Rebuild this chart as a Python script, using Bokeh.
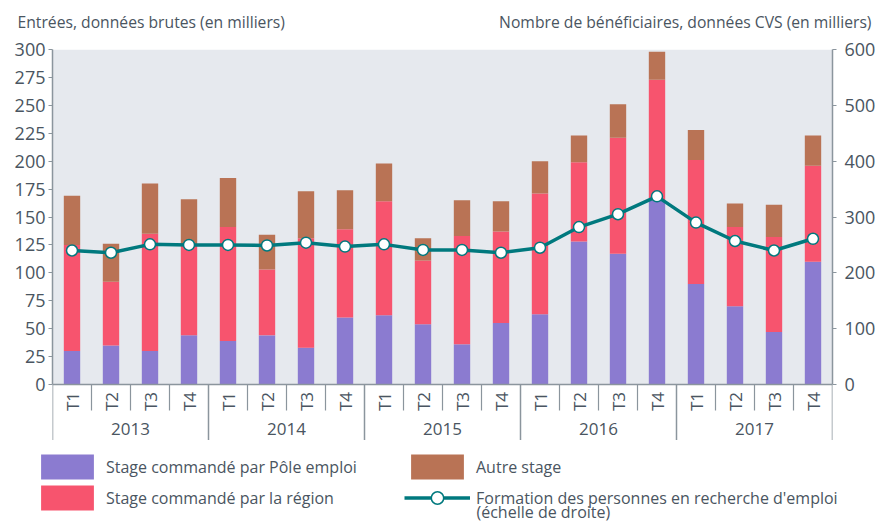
import math
from bokeh.plotting import figure
from bokeh.models import (FactorRange, Range1d, LinearAxis, FixedTicker, BoxAnnotation,
                          Span, Legend, LegendItem, ColumnDataSource)
from bokeh.core.properties import value
from bokeh.embed import file_html
from bokeh.resources import INLINE

years = ["2013", "2014", "2015", "2016", "2017"]
quarters = ["T1", "T2", "T3", "T4"]
pole = [30, 35, 30, 44, 39, 44, 33, 60, 62, 54, 36, 55, 63, 128, 117, 165, 90, 70, 47, 110]
region = [95, 57, 105, 81, 102, 59, 98, 79, 102, 57, 97, 82, 108, 71, 104, 108, 111, 71, 85, 86]
autre = [44, 34, 45, 41, 44, 31, 42, 35, 34, 20, 32, 27, 29, 24, 30, 25, 27, 21, 29, 27]
formation = [240, 236, 251, 250, 250, 249, 254, 247, 251, 241, 241, 236,
             245, 282, 305, 337, 290, 257, 240, 261]
left_ticks = list(range(0, 301, 25))
right_ticks = list(range(0, 601, 100))
title_left = "Entrées, données brutes (en milliers)"
title_right = "Nombre de bénéficiaires, données CVS (en milliers)"
lab_pole = "Stage commandé par Pôle emploi"
lab_region = "Stage commandé par la région"
lab_autre = "Autre stage"
lab_form = "Formation des personnes en recherche d'emploi"
lab_form2 = "(échelle de droite)"

FONT = "Open Sans"
TXT = "#4a5561"
AX = "#8b959d"
C_POLE = "#8b7bd0"
C_REG = "#f7546e"
C_AUT = "#b97355"
C_LINE = "#00797e"
BG = "#e6e9ee"
W = 886

def bare(h, **kw):
    f = figure(width=W, height=h, output_backend="svg", toolbar_location=None,
               x_axis_location=None, y_axis_location=None, outline_line_color=None,
               background_fill_color="white", border_fill_color="white", **kw)
    f.grid.visible = False
    return f

# ---------- titles ----------
TH = 36
top = bare(TH, x_range=Range1d(0, W), y_range=Range1d(TH, 0),
           min_border_left=0, min_border_right=0, min_border_top=0, min_border_bottom=0)
top.text(x=[17], y=[21], text=[title_left], text_align="left", text_baseline="middle",
         text_font=value(FONT), text_font_size="15.7px", text_color=TXT)
top.text(x=[871], y=[21], text=[title_right], text_align="right", text_baseline="middle",
         text_font=value(FONT), text_font_size="15.7px", text_color=TXT)

# ---------- main chart ----------
factors = [(y, q) for y in years for q in quarters]
src = ColumnDataSource(dict(x=factors, pole=pole, region=region, autre=autre, formation=formation))

K = 300 / 335.0  # left-axis units per pixel
y_bottom = -56 * K

p = bare(440 - TH, x_range=FactorRange(*factors, factor_padding=0, group_padding=0, range_padding=0),
         y_range=Range1d(y_bottom, 300),
         min_border_left=52, min_border_right=54, min_border_top=49 - TH, min_border_bottom=0)
p.extra_y_ranges = {"right": Range1d(2 * y_bottom, 600)}

p.add_layout(BoxAnnotation(bottom=0, fill_color=BG, fill_alpha=1, line_color=None, level="underlay"))

rs = p.vbar_stack(["pole", "region", "autre"], x="x", width=0.42, source=src,
                  color=[C_POLE, C_REG, C_AUT], line_color=None)
p.line(x="x", y="formation", source=src, y_range_name="right", line_color=C_LINE, line_width=3.5)
p.scatter(x="x", y="formation", source=src, y_range_name="right", size=11,
          fill_color="white", line_color=C_LINE, line_width=1.5)

la = LinearAxis(bounds=(0, 300), ticker=FixedTicker(ticks=left_ticks))
ra = LinearAxis(y_range_name="right", bounds=(0, 600), ticker=FixedTicker(ticks=right_ticks))
for ax, so in ((la, 3), (ra, 8)):
    ax.axis_line_color = AX
    ax.axis_line_width = 1.5
    ax.major_tick_line_color = AX
    ax.major_tick_line_width = 1.2
    ax.major_tick_out = 4
    ax.major_tick_in = 0
    ax.minor_tick_line_color = None
    ax.major_label_standoff = so
    ax.major_label_text_font = FONT
    ax.major_label_text_font_size = "18px"
    ax.major_label_text_color = TXT
p.add_layout(la, "left")
p.add_layout(ra, "right")
p.add_layout(Span(location=0, dimension="width", line_color=AX, line_width=1.5))

n = len(factors)
qb = [i for i in range(1, n) if i % len(quarters)]
yb = [i for i in range(0, n + 1, len(quarters))]
p.segment(x0=qb, x1=qb, y0=[0] * len(qb), y1=[-26 * K] * len(qb), line_color=AX, line_width=1.2)
p.segment(x0=yb, x1=yb, y0=[0] * len(yb), y1=[-56 * K] * len(yb), line_color=AX, line_width=1.5)
p.text(x=factors, y=[-17 * K] * n, text=[q for _ in years for q in quarters], angle=math.pi / 2,
       text_align="center", text_baseline="middle", text_font=value(FONT),
       text_font_size="17px", text_color=TXT)
p.text(x=years, y=[-44 * K] * len(years), text=years, text_align="center", text_baseline="middle",
       text_font=value(FONT), text_font_size="17px", text_color=TXT)

# ---------- legend ----------
BH = 521 - 440
bot = bare(BH, x_range=Range1d(0, W), y_range=Range1d(BH, 0),
           min_border_left=0, min_border_right=0, min_border_top=0, min_border_bottom=0)
# legend proxies: one point each, placed off the visible range
px = dict(x=[-100], top=[0])
g_pole = bot.vbar(x="x", top="top", width=1, source=ColumnDataSource(px), color=C_POLE, line_color=None)
g_reg = bot.vbar(x="x", top="top", width=1, source=ColumnDataSource(px), color=C_REG, line_color=None)
g_aut = bot.vbar(x="x", top="top", width=1, source=ColumnDataSource(px), color=C_AUT, line_color=None)
pl = dict(x=[-100, -90], y=[0, 0])
g_line = bot.line(x="x", y="y", source=ColumnDataSource(pl), line_color=C_LINE, line_width=3.5)
g_pts = bot.scatter(x="x", y="y", source=ColumnDataSource(pl), size=11, fill_color="white",
                    line_color=C_LINE, line_width=1.5)

def mk_legend(items, loc):
    return Legend(items=items, location=loc, orientation="vertical", padding=0, margin=0,
                  spacing=-1, glyph_width=66, glyph_height=31, label_standoff=6,
                  border_line_color=None, background_fill_alpha=0,
                  label_text_font=FONT, label_text_font_size="16px", label_text_color=TXT)

bot.add_layout(mk_legend([LegendItem(label=lab_pole, renderers=[g_pole]),
                          LegendItem(label=lab_region, renderers=[g_reg])], (34, 8)))
bot.add_layout(mk_legend([LegendItem(label=lab_autre, renderers=[g_aut]),
                          LegendItem(label=lab_form, renderers=[g_line, g_pts])], (404, 8)))
bot.text(x=[476], y=[71], text=[lab_form2], text_align="left", text_baseline="middle",
         text_font=value(FONT), text_font_size="16px", text_color=TXT)

open("out.html", "w").write(file_html([top, p, bot], INLINE))
